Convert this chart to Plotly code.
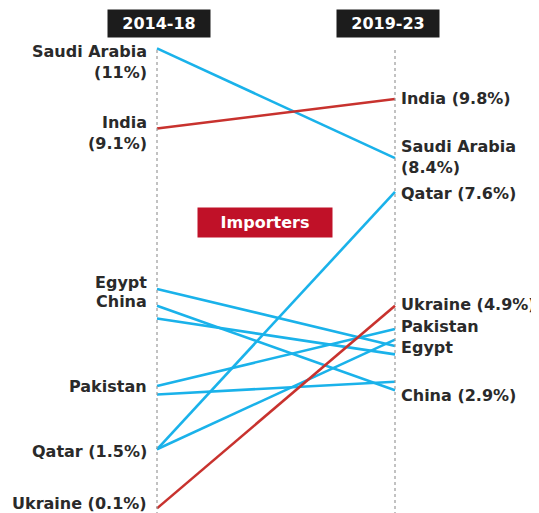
import plotly.graph_objects as go

# ---- data (share of global arms imports, %) ----
countries = ["Saudi Arabia", "India", "Egypt", "China", "Australia",
             "Pakistan", "South Korea", "Qatar", "Japan", "Ukraine"]
share_2014_18 = [11.0, 9.1, 5.3, 4.9, 4.6, 3.0, 2.8, 1.5, 1.5, 0.1]
share_2019_23 = [8.4, 9.8, 3.95, 2.9, 3.75, 4.35, 3.1, 7.6, 4.1, 4.9]
line_colors = ["#1ab2ea", "#c8322e", "#1ab2ea", "#1ab2ea", "#1ab2ea",
               "#1ab2ea", "#1ab2ea", "#1ab2ea", "#1ab2ea", "#c8322e"]
periods = ["2014-18", "2019-23"]

# labels (text, which country value they sit by, pixel nudge)
left_labels = [("Saudi Arabia<br>(11%)", 0, -14), ("India<br>(9.1%)", 1, -4),
               ("Egypt", 2, 6), ("China", 3, 4), ("Pakistan", 5, 0),
               ("Qatar (1.5%)", 7, -2), ("Ukraine (0.1%)", 9, 5)]
right_labels = [("India (9.8%)", 1, 1), ("Saudi Arabia<br>(8.4%)", 0, 1),
                ("Qatar (7.6%)", 7, -2), ("Ukraine (4.9%)", 9, 1),
                ("Pakistan", 5, 3), ("Egypt", 2, -2), ("China (2.9%)", 3, -5)]

W, H = 539, 513
OFF = 8                       # page body margin
XL, XR = 157 - OFF, 395 - OFF  # pixel x of the two period axes
PX_PER_PCT = 42.2
Y0 = 512.6 - OFF              # pixel y of 0 %

x_range = [-XL / (XR - XL), (W - XL) / (XR - XL)]
y_range = [(Y0 - H) / PX_PER_PCT, Y0 / PX_PER_PCT]

fig = go.Figure()
for i, c in enumerate(countries):
    fig.add_trace(go.Scatter(
        x=[0, 1], y=[share_2014_18[i], share_2019_23[i]],
        mode="lines", line=dict(color=line_colors[i], width=2.6),
        name=c, showlegend=False, hoverinfo="name"))

# dotted period axes
for xv in (0, 1):
    fig.add_shape(type="line", xref="x", yref="paper", x0=xv, x1=xv,
                  y0=0.0, y1=1 - 40 / H,
                  line=dict(color="#9a9a9a", width=1.2, dash="dot"))

lab_font = dict(family="DejaVu Sans", size=16, color="#2a2a2a", weight="bold")
for txt, idx, dy in left_labels:
    fig.add_annotation(x=0, y=share_2014_18[idx], xref="x", yref="y",
                       text=txt, showarrow=False, xanchor="right",
                       yanchor="middle", align="right", xshift=-8,
                       yshift=dy, font=lab_font)
for txt, idx, dy in right_labels:
    fig.add_annotation(x=1, y=share_2019_23[idx], xref="x", yref="y",
                       text=txt, showarrow=False, xanchor="left",
                       yanchor="middle", align="left", xshift=4,
                       yshift=dy, font=lab_font)

# period header boxes
for xv, p, xs in ((0, periods[0], 2), (1, periods[1], -7.5)):
    fig.add_annotation(x=xv, y=1 - 15.5 / H, xref="x", yref="paper",
                       xanchor="center", yanchor="middle",
                       text=p, showarrow=False, xshift=xs,
                       bgcolor="#1c1c1c", borderpad=3, width=96, height=21,
                       font=dict(family="DejaVu Sans", size=16,
                                 color="white", weight="bold"))

# "Importers" tag
fig.add_annotation(x=(257 - XL) / (XR - XL), y=1 - 214.5 / H, xref="x",
                   yref="paper", xanchor="center", yanchor="middle",
                   text="Importers", showarrow=False,
                   bgcolor="#c01128", borderpad=3, width=128, height=23,
                   font=dict(family="DejaVu Sans", size=16,
                             color="white", weight="bold"))

fig.update_xaxes(range=x_range, visible=False, fixedrange=True)
fig.update_yaxes(range=y_range, visible=False, fixedrange=True)
fig.update_layout(width=W, height=H, margin=dict(l=0, r=0, t=0, b=0),
                  plot_bgcolor="white", paper_bgcolor="white",
                  showlegend=False)
fig.write_html("out.html")
